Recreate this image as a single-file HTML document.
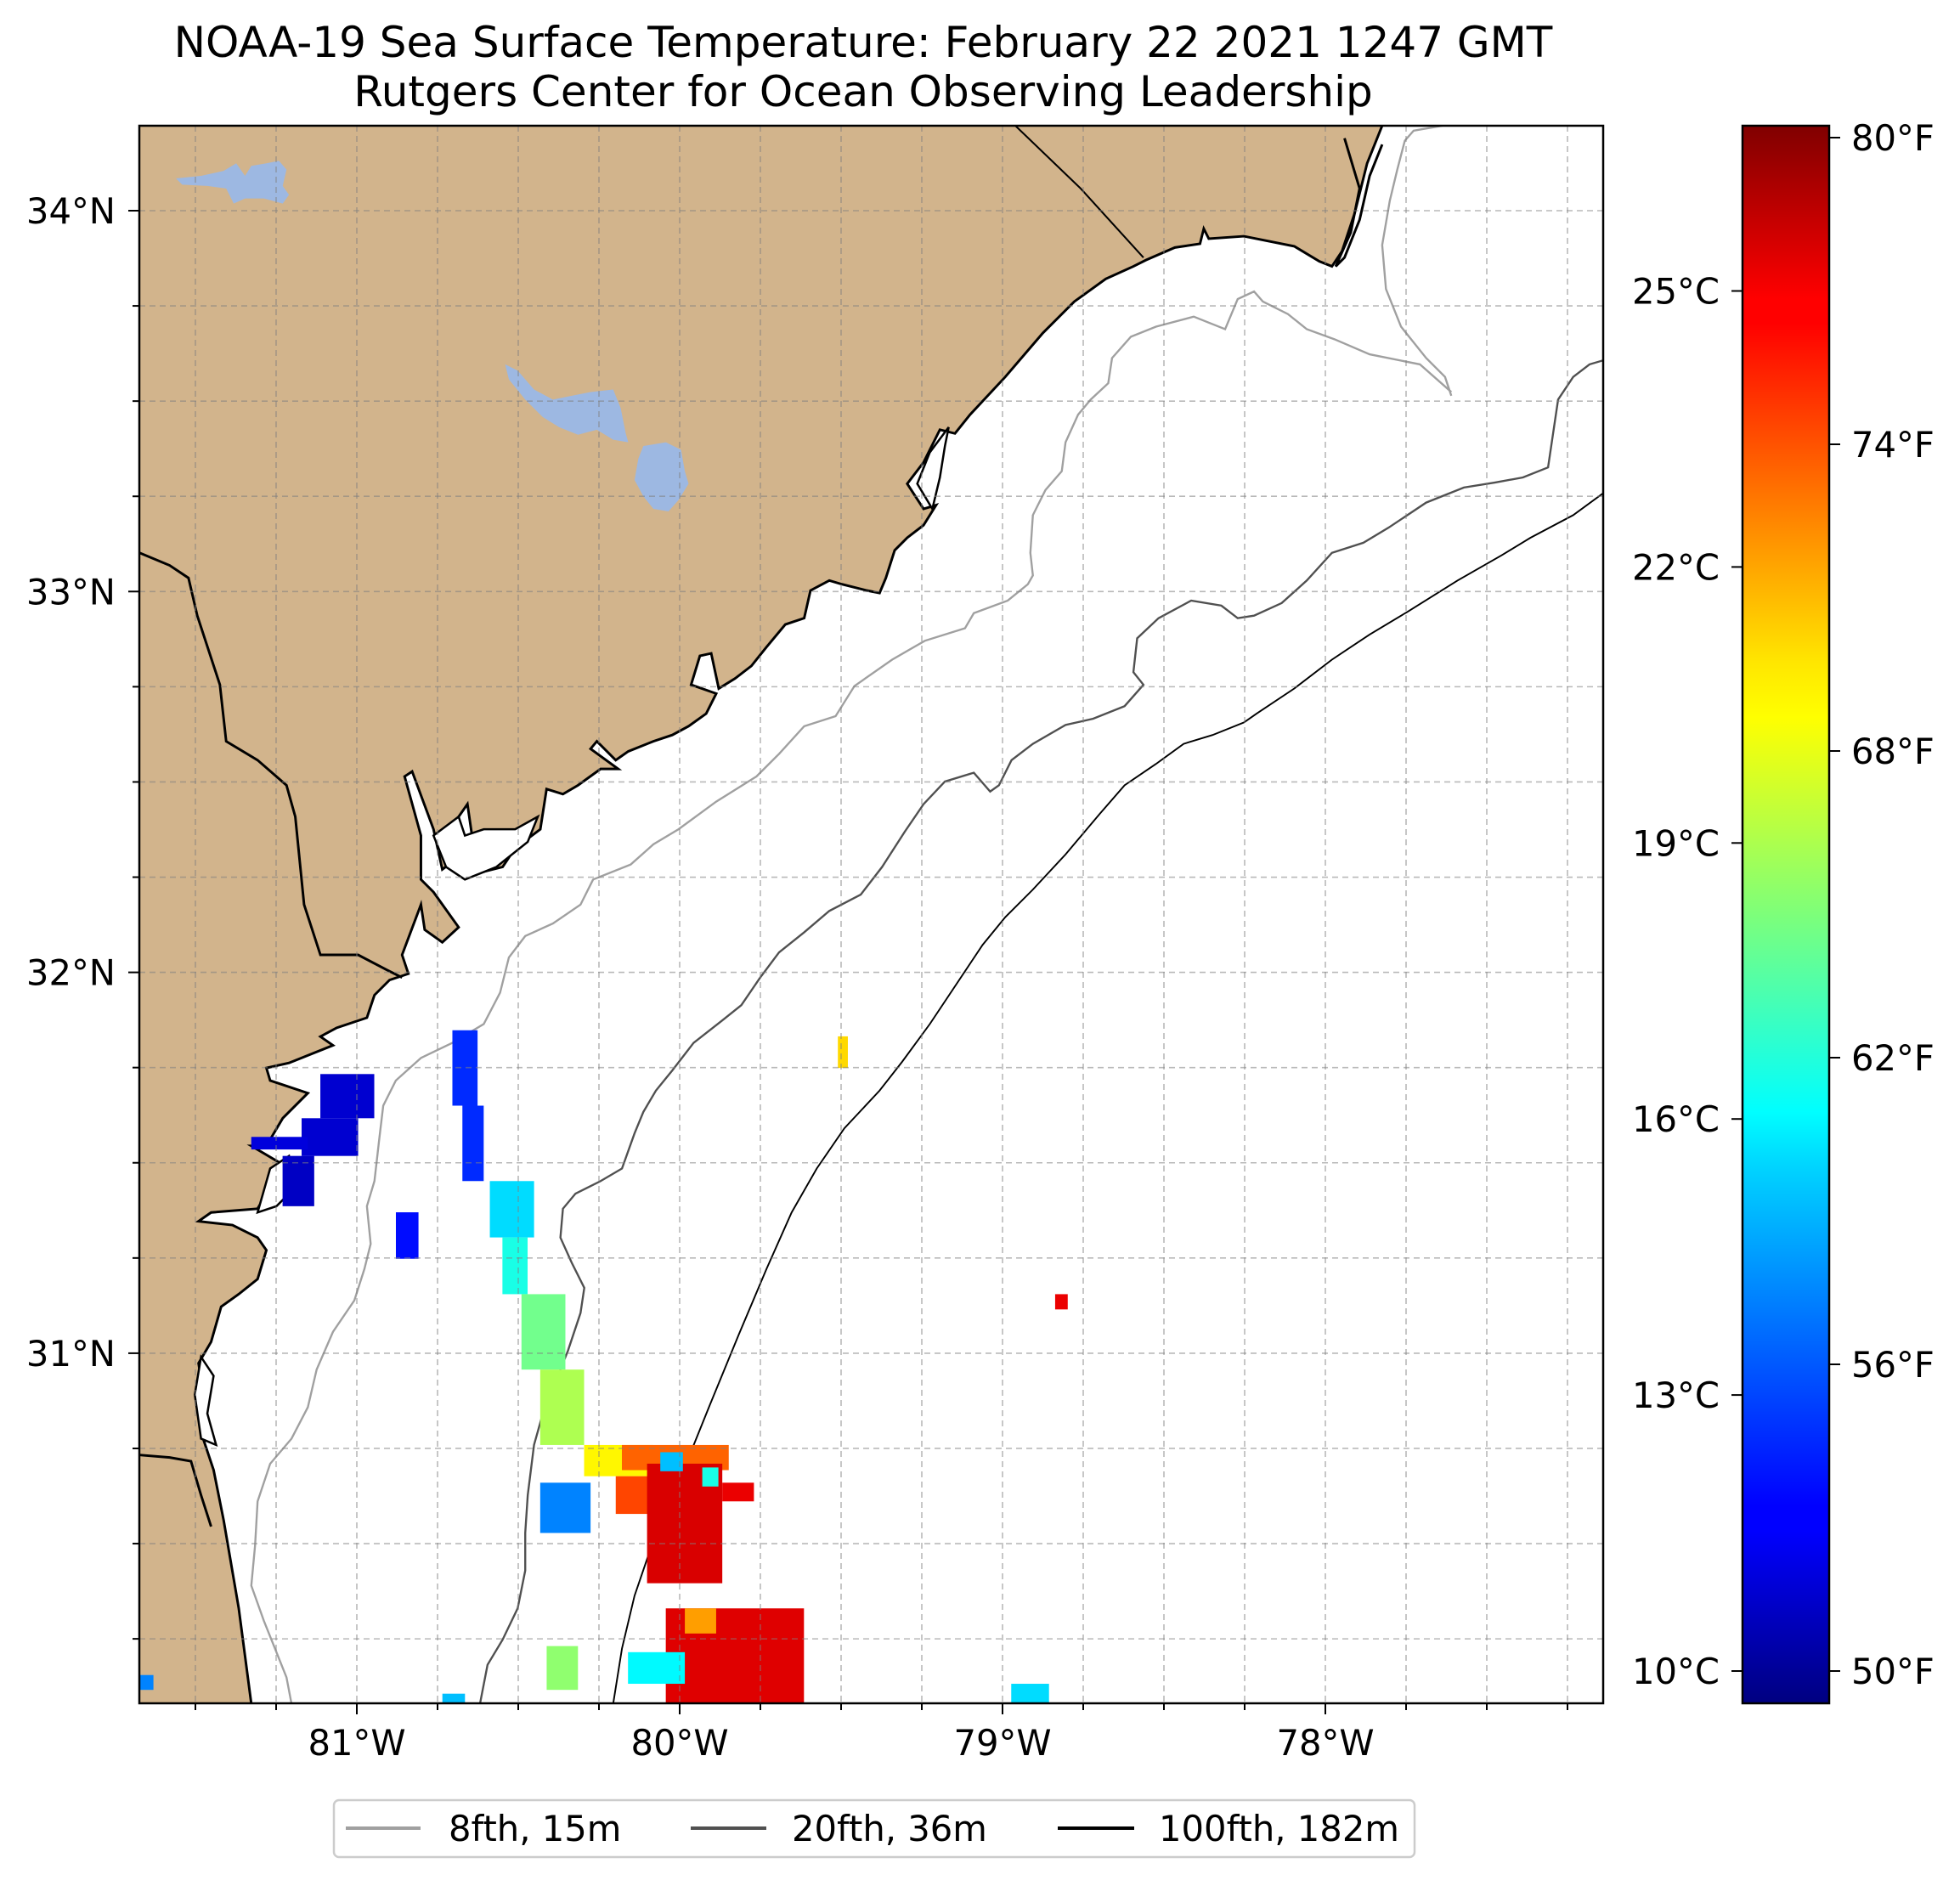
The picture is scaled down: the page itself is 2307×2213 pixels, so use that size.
<!DOCTYPE html>
<html><head><meta charset="utf-8"><style>
html,body{margin:0;padding:0;background:#fff;}
svg{display:block;font-family:"DejaVu Sans","Liberation Sans",sans-serif;}
</style></head><body>
<svg id="fig" width="2307" height="2213" viewBox="0 0 2307 2213" xmlns="http://www.w3.org/2000/svg">
<defs>
<clipPath id="axclip"><rect x="164" y="148" width="1723" height="1857"/></clipPath>
<linearGradient id="jetgrad" x1="0" y1="1" x2="0" y2="0">
<stop offset="0" stop-color="#000080"/><stop offset="0.11" stop-color="#0000ff"/><stop offset="0.125" stop-color="#0000ff"/><stop offset="0.34" stop-color="#00d4ff"/><stop offset="0.375" stop-color="#00ffff"/><stop offset="0.5" stop-color="#7dff7a"/><stop offset="0.625" stop-color="#ffff00"/><stop offset="0.66" stop-color="#ffe600"/><stop offset="0.875" stop-color="#ff0000"/><stop offset="0.89" stop-color="#ff0000"/><stop offset="1" stop-color="#800000"/>
</linearGradient>
</defs>
<text x="1016" y="67" font-size="50" text-anchor="middle">NOAA-19 Sea Surface Temperature: February 22 2021 1247 GMT</text>
<text x="1016" y="125" font-size="50" text-anchor="middle">Rutgers Center for Ocean Observing Leadership</text>

<g clip-path="url(#axclip)">
<rect x="164" y="148" width="1723" height="1857" fill="#fff"/>
<g transform="scale(1.479)">
<path fill="#d2b48c" stroke="#000" stroke-width="2" d="M100,90 L1098,90 L1100,100 L1088,130 L1078,170 L1068,200 L1060,212 L1050,208 L1030,196 L990,188 L962,190 L958,182 L955,194 L935,197 L912,207 L902,212 L880,222 L855,240 L830,265 L800,300 L772,330 L760,345 L748,342 L735,368 L722,385 L735,405 L745,402 L735,418 L722,428 L712,438 L705,460 L700,472 L690,470 L670,465 L660,462 L645,470 L640,492 L625,497 L610,515 L598,530 L585,540 L572,548 L566,520 L557,522 L550,545 L570,552 L562,568 L548,578 L535,585 L520,590 L500,598 L490,605 L475,590 L470,596 L492,612 L478,612 L460,625 L448,632 L435,628 L430,660 L410,675 L400,690 L380,695 L372,640 L365,650 L368,680 L352,692 L345,660 L328,614 L322,618 L335,665 L335,700 L345,710 L365,738 L352,750 L338,740 L335,720 L320,760 L325,775 L310,780 L298,792 L292,810 L268,818 L255,825 L265,832 L250,838 L230,846 L212,850 L215,860 L245,870 L225,890 L212,912 L200,912 L222,925 L212,950 L205,962 L168,965 L158,972 L185,975 L205,985 L212,995 L205,1018 L190,1030 L176,1040 L168,1068 L158,1085 L162,1110 L160,1140 L170,1170 L178,1210 L190,1280 L200,1356 L100,1366 Z"/>
<path d="M1070,110 L1082,150 L1075,185 L1063,212 L1070,205 L1082,175 L1090,140 L1100,115" fill="none" stroke="#000" stroke-width="2"/>
<path d="M755,340 L740,360 L730,385 L742,405 L748,380 L752,355 Z" fill="#fff" stroke="#000" stroke-width="1.7"/>
<path d="M345,665 L355,690 L370,700 L395,690 L420,670 L428,650 L410,660 L385,660 L370,665 L365,650 Z" fill="#fff" stroke="#000" stroke-width="1.7"/>
<path d="M205,965 L215,930 L230,920 L235,945 L220,960 Z" fill="#fff" stroke="#000" stroke-width="1.7"/>
<path d="M160,1080 L170,1095 L165,1125 L172,1150 L160,1145 L155,1110 Z" fill="#fff" stroke="#000" stroke-width="1.7"/>
<path d="M808,100 L860,150 L910,205" fill="none" stroke="#000" stroke-width="1.4"/>
<path d="M111,440 L135,450 L150,460 L157,490 L175,545 L180,590 L205,605 L228,625 L235,650 L242,720 L255,760 L285,760 L308,772 L320,778" fill="none" stroke="#000" stroke-width="2"/>
<path d="M111,1158 L135,1160 L152,1163 L160,1190 L168,1215" fill="none" stroke="#000" stroke-width="2"/>
<path fill="#9db8e2" d="M140,142 L160,140 L178,136 L188,130 L195,140 L200,132 L212,130 L222,128 L228,135 L225,148 L230,155 L225,162 L210,158 L195,158 L186,162 L180,150 L165,148 L145,147 Z"/>
<path fill="#9db8e2" d="M402,290 L412,295 L425,310 L440,318 L455,315 L470,312 L488,310 L494,325 L498,345 L500,352 L488,350 L475,342 L460,346 L445,340 L432,332 L418,318 L405,302 Z"/>
<path fill="#9db8e2" d="M512,355 L530,352 L542,358 L545,375 L548,385 L540,398 L532,407 L520,405 L512,395 L505,382 L508,365 Z"/>
<path fill="none" stroke="#a0a0a0" stroke-width="1.6" d="M1148,100 L1125,104 L1118,112 L1112,135 L1106,160 L1100,195 L1103,230 L1115,260 L1135,285 L1150,300 L1155,315"/>
<path fill="none" stroke="#a0a0a0" stroke-width="1.6" d="M1155,312 L1130,290 L1090,282 L1062,270 L1040,262 L1025,250 L1005,240 L998,232 L985,238 L975,262 L965,258 L950,252 L920,260 L900,268 L885,285 L882,305 L868,318 L858,330 L848,352 L845,375 L832,390 L822,410 L820,440 L822,458 L818,465 L802,478 L775,488 L768,500 L736,510 L710,525 L680,546 L665,570 L640,578 L620,600 L602,618 L570,638 L540,660 L520,672 L502,688 L472,700 L462,720 L440,735 L418,745 L405,762 L398,790 L385,815 L360,830 L335,842 L315,860 L305,880 L302,905 L298,940 L292,960 L295,990 L290,1010 L282,1035 L265,1060 L252,1090 L245,1120 L232,1145 L215,1165 L205,1195 L203,1230 L200,1262 L210,1290 L218,1310 L228,1335 L232,1356"/>
<path fill="none" stroke="#505050" stroke-width="1.6" d="M1282,285 L1265,290 L1252,300 L1240,318 L1236,345 L1232,372 L1212,380 L1190,384 L1165,388 L1135,400 L1105,420 L1085,432 L1060,440 L1040,462 L1020,480 L998,490 L985,492 L972,482 L948,478 L922,492 L905,508 L902,535 L910,545 L895,562 L870,572 L848,577 L822,592 L805,605 L795,625 L788,630 L775,615 L752,622 L735,640 L720,662 L702,690 L685,712 L660,725 L640,742 L620,758 L605,778 L590,800 L575,812 L552,830 L535,852 L522,868 L512,885 L505,902 L495,930 L478,940 L458,950 L448,962 L446,985 L455,1005 L465,1025 L462,1045 L452,1075 L442,1100 L432,1125 L425,1150 L420,1190 L418,1220 L418,1250 L412,1280 L400,1305 L388,1325 L382,1356"/>
<path fill="none" stroke="#000" stroke-width="1.3" d="M1282,388 L1252,410 L1218,428 L1195,442 L1160,462 L1120,487 L1090,505 L1060,525 L1030,548 L1000,568 L990,575 L965,585 L942,592 L920,608 L895,625 L875,648 L848,680 L822,708 L800,730 L782,752 L760,785 L740,815 L718,845 L700,868 L672,898 L650,930 L630,965 L610,1010 L588,1062 L565,1118 L540,1180 L518,1232 L505,1270 L495,1312 L488,1356"/>
</g>
<g id="sst-layer"></g>
<g id="grid"></g>
</g>
<rect x="164" y="148" width="1723" height="1857" fill="none" stroke="#000" stroke-width="2.5"/>
<g id="axes"></g>

<rect x="2051" y="148" width="102" height="1857" fill="url(#jetgrad)" stroke="#000" stroke-width="2.5"/>
<g id="cbar"></g>

<g>
<rect x="393" y="2119" width="1272" height="67" rx="6" fill="#fff" stroke="#cccccc" stroke-width="2.5"/>
<line x1="407" y1="2152" x2="495" y2="2152" stroke="#a0a0a0" stroke-width="4"/>
<text x="528" y="2167" font-size="41.7">8fth, 15m</text>
<line x1="813" y1="2152" x2="902" y2="2152" stroke="#505050" stroke-width="4"/>
<text x="932" y="2167" font-size="41.7">20fth, 36m</text>
<line x1="1245" y1="2152" x2="1335" y2="2152" stroke="#000" stroke-width="4"/>
<text x="1364" y="2167" font-size="41.7">100fth, 182m</text>
</g>
</svg>
<script>
// SST patches: [lon0, lat0, lon1, lat1]
const patchLon0 = [-81.113,-81.171,-81.230,-81.327,-80.704,-80.673,-80.588,-80.549,-80.490,-80.432,-80.296,-80.179,-80.198,-80.101,-79.868,-80.043,-79.984,-80.160,-80.432,-80.412,-80.879,-78.837,-79.510,-78.973,-81.673,-80.735,-80.060,-79.930];
const patchLat0 = [31.733,31.617,31.518,31.568,31.848,31.650,31.452,31.304,31.155,30.957,30.759,30.759,30.677,30.710,30.660,30.330,30.330,30.215,30.660,30.231,31.370,31.155,31.832,30.132,30.155,30.106,30.740,30.700];
const patchLon1 = [-80.946,-80.996,-81.132,-81.152,-80.626,-80.607,-80.451,-80.471,-80.354,-80.296,-80.082,-79.848,-80.043,-79.868,-79.770,-79.615,-79.887,-79.984,-80.276,-80.315,-80.809,-78.798,-79.479,-78.856,-81.630,-80.665,-79.990,-79.880];
const patchLat1 = [31.617,31.518,31.386,31.535,31.650,31.452,31.304,31.155,30.957,30.759,30.677,30.693,30.578,30.396,30.611,30.079,30.264,30.132,30.528,30.116,31.248,31.115,31.749,30.079,30.116,30.079,30.690,30.650];
const patchTemp = [11.0,11.0,10.8,11.2,12.5,12.5,15.5,16.5,18.0,19.0,20.5,23.0,23.5,25.3,25.0,25.2,22.0,16.0,14.0,18.5,12.0,25.0,21.0,15.5,14.0,15.0,15.0,16.5];
const cTicks = [10,13,16,19,22,25];
const fTicks = [50,56,62,68,74,80];
const lonTicks = [-81,-80,-79,-78];
const latTicks = [34,33,32,31];
const vmin = 9.65, vmax = 26.8;

function xScale(lon){ return 420 + (lon + 81) * 380; }
function yScale(lat){ return 248 + (34 - lat) * 448.3; }
function cScale(c){ return 1967 - (c - 10) * 108.3; }
function jet(t){
  const x = Math.max(0, Math.min(1, (t - vmin) / (vmax - vmin)));
  const cl = v => Math.round(255 * Math.max(0, Math.min(1, v)));
  return `rgb(${cl(1.5 - Math.abs(4*x - 3))},${cl(1.5 - Math.abs(4*x - 2))},${cl(1.5 - Math.abs(4*x - 1))})`;
}
const NS = 'http://www.w3.org/2000/svg';
function mk(tag, attrs, parent){ const e = document.createElementNS(NS, tag); for (const k in attrs) e.setAttribute(k, attrs[k]); parent.appendChild(e); return e; }

const sst = document.getElementById('sst-layer');
for (let i = 0; i < patchTemp.length; i++){
  const x0 = xScale(patchLon0[i]), x1 = xScale(patchLon1[i]);
  const y0 = yScale(patchLat0[i]), y1 = yScale(patchLat1[i]);
  const r = mk('rect', {x: Math.min(x0,x1), y: Math.min(y0,y1), width: Math.abs(x1-x0), height: Math.abs(y1-y0), fill: jet(patchTemp[i])}, sst);
  
  
}

const grid = document.getElementById('grid');
const axes = document.getElementById('axes');
for (let k = 0; k <= 20; k++){
  const lat = 30 + k * 0.25;
  const y = yScale(lat);
  if (y < 150 || y > 2003) continue;
  const g = mk('line', {x1:164, x2:1887, y1:y, y2:y, stroke:'rgba(128,128,128,0.55)', 'stroke-width':1.6, 'stroke-dasharray':'7 5'}, grid);
  
  
  const major = Math.abs(lat - Math.round(lat)) < 1e-6;
  const t = mk('line', {x1: major ? 151 : 156, x2:164, y1:y, y2:y, stroke:'#000', 'stroke-width':2}, axes);
  
  
}
for (let k = 0; k <= 20; k++){
  const lon = -82 + k * 0.25;
  const x = xScale(lon);
  if (x < 166 || x > 1885) continue;
  const g = mk('line', {x1:x, x2:x, y1:148, y2:2005, stroke:'rgba(128,128,128,0.55)', 'stroke-width':1.6, 'stroke-dasharray':'7 5'}, grid);
  
  
  const major = Math.abs(lon - Math.round(lon)) < 1e-6;
  const t = mk('line', {x1:x, x2:x, y1:2005, y2: major ? 2018 : 2013, stroke:'#000', 'stroke-width':2}, axes);
  
  
}
latTicks.forEach(lat => {
  const t = mk('text', {x:136, y: yScale(lat) + 15, 'font-size':41.7, 'text-anchor':'end'}, axes);
  t.textContent = lat + '°N';
  
  
});
lonTicks.forEach(lon => {
  const t = mk('text', {x: xScale(lon), y: 2066, 'font-size':41.7, 'text-anchor':'middle'}, axes);
  t.textContent = Math.abs(lon) + '°W';
  
  
});

const cb = document.getElementById('cbar');
cTicks.forEach(c => {
  const y = cScale(c);
  const l = mk('line', {x1:2038, x2:2051, y1:y, y2:y, stroke:'#000', 'stroke-width':2}, cb);
  
  
  const t = mk('text', {x:2024, y:y + 15, 'font-size':41.7, 'text-anchor':'end'}, cb);
  t.textContent = c + '°C';
  
  
});
fTicks.forEach(f => {
  const y = cScale((f - 32) * 5 / 9);
  const l = mk('line', {x1:2153, x2:2166, y1:y, y2:y, stroke:'#000', 'stroke-width':2}, cb);
  
  
  const t = mk('text', {x:2179, y:y + 15, 'font-size':41.7}, cb);
  t.textContent = f + '°F';
  
  
});
</script>
</body></html>
